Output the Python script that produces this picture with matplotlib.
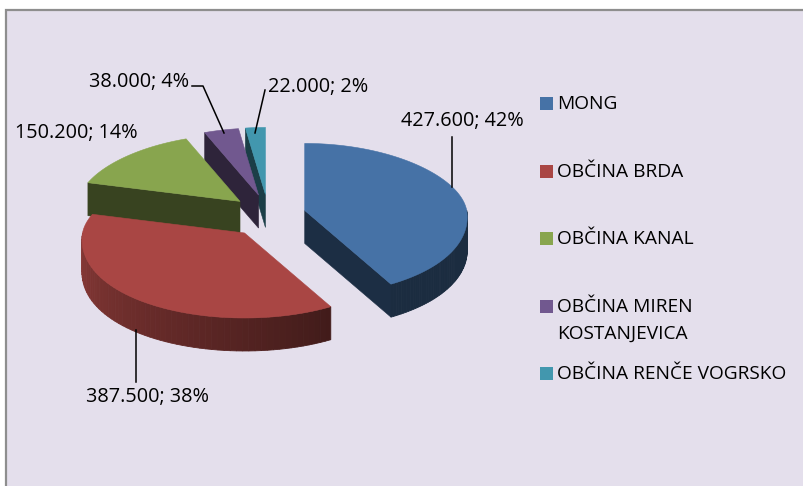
import matplotlib
matplotlib.use("Agg")
import matplotlib.pyplot as plt
from matplotlib.patches import Polygon, Rectangle
from matplotlib.colors import to_rgb
import numpy as np

categories = ["MONG", "OBČINA BRDA", "OBČINA KANAL",
              "OBČINA MIREN\nKOSTANJEVICA", "OBČINA RENČE VOGRSKO"]
values = [427600, 387500, 150200, 38000, 22000]
pct_labels = [42, 38, 14, 4, 2]
colors = ["#4F81BD", "#C0504D", "#9BBB59", "#8064A2", "#4BACC6"]

W, H = 804, 486
BG = "#E4DFEC"
FONT = "Open Sans"

# pie layout in pixel coords (y grows downwards)
cx, cy = 268, 216
rx = 162
ry_back, ry_front = 67, 85
persp = 0.08          # front of the pie drawn a bit wider than the back
depth = 33
ex, ey = 38, 21.6

# label layout: text centre and leader-line points
label_pos = [(462, 121), (148, 397), (76, 133), (139, 82), (318, 87)]
leaders = [
    [(452, 187), (452, 137)],
    [(136, 330), (136, 382)],
    None,
    [(224, 133), (203, 86), (192, 86)],
    [(255, 133), (265, 90)],
]


def shade(c, f):
    r, g, b = to_rgb(c)
    return (r * f, g * f, b * f)


def pt(theta, ox, oy, dz=0.0):
    t = np.radians(theta)
    s = np.sin(t)
    ry = ry_back if s > 0 else ry_front
    return (ox + rx * np.cos(t) * (1 - persp * s), oy - ry * s + dz)


fig = plt.figure(figsize=(W / 100, H / 100), dpi=100)
fig.patch.set_facecolor("white")
ax = fig.add_axes([0, 0, 1, 1])
ax.set_xlim(0, W)
ax.set_ylim(H, 0)
ax.axis("off")

ax.add_patch(Rectangle((6.5, 10.5), 900, 600, facecolor=BG,
                       edgecolor="#8E8E8E", lw=1.6, zorder=0))

total = sum(values)
slices = []
start = 90.0
for i, v in enumerate(values):
    sweep = v / total * 360
    th2, th1 = start, start - sweep
    start = th1
    mid = (th1 + th2) / 2
    ox = cx + ex * np.cos(np.radians(mid))
    oy = cy - ey * np.sin(np.radians(mid))
    slices.append((i, th1, th2, mid, ox, oy))

# paint back slices first
order = sorted(slices, key=lambda s: -np.sin(np.radians(s[3])))
z = 1
for i, th1, th2, mid, ox, oy in order:
    base = colors[i]
    # radial cut faces
    for th, nrm in ((th2, th2 + 90), (th1, th1 - 90)):
        if np.sin(np.radians(nrm)) < 0:
            quad = [(ox, oy), pt(th, ox, oy), pt(th, ox, oy, depth), (ox, oy + depth)]
            ax.add_patch(Polygon(quad, closed=True, facecolor=shade(base, 0.36),
                                 edgecolor=shade(base, 0.36), lw=0.4, zorder=z))
    # outer wall (front half only), shaded left to right
    lo, hi = max(th1, -180), min(th2, 0)
    if hi > lo:
        ts = np.linspace(lo, hi, 60)
        for a, b in zip(ts[:-1], ts[1:]):
            f = max(0.34, 0.72 - 0.38 * ((a + b) / 2 + 180) / 120)
            quad = [pt(a, ox, oy), pt(b, ox, oy), pt(b, ox, oy, depth), pt(a, ox, oy, depth)]
            ax.add_patch(Polygon(quad, closed=True, facecolor=shade(base, f),
                                 edgecolor=shade(base, f), lw=0.6, zorder=z))
    # top face
    ts = np.linspace(th2, th1, 120)
    top = [(ox, oy)] + [pt(t, ox, oy) for t in ts]
    ax.add_patch(Polygon(top, closed=True, facecolor=shade(base, 0.88),
                         edgecolor=shade(base, 0.88), lw=0.4, zorder=z + 1))
    z += 2

# data labels
for i, v in enumerate(values):
    txt = f"{v:,}".replace(",", ".") + f"; {pct_labels[i]}%"
    x, y = label_pos[i]
    ax.text(x, y, txt, ha="center", va="center", fontsize=14.3, family=FONT,
            color="black", zorder=20)
    if leaders[i]:
        xs, ys = zip(*leaders[i])
        ax.plot(xs, ys, color="black", lw=1.1, zorder=19)

# legend
rows = [103.5, 171.5, 238.5, 306.5, 373.5]
for i, name in enumerate(categories):
    y = rows[i]
    ax.add_patch(Rectangle((540, y - 6.5), 13, 13, facecolor=shade(colors[i], 0.88),
                           edgecolor="none", zorder=20))
    for j, line in enumerate(name.split("\n")):
        ax.text(557, y + j * 27, line, ha="left", va="center", fontsize=13.8,
                family=FONT, color="black", zorder=20)

fig.savefig("out.png", dpi=100, facecolor="white")
